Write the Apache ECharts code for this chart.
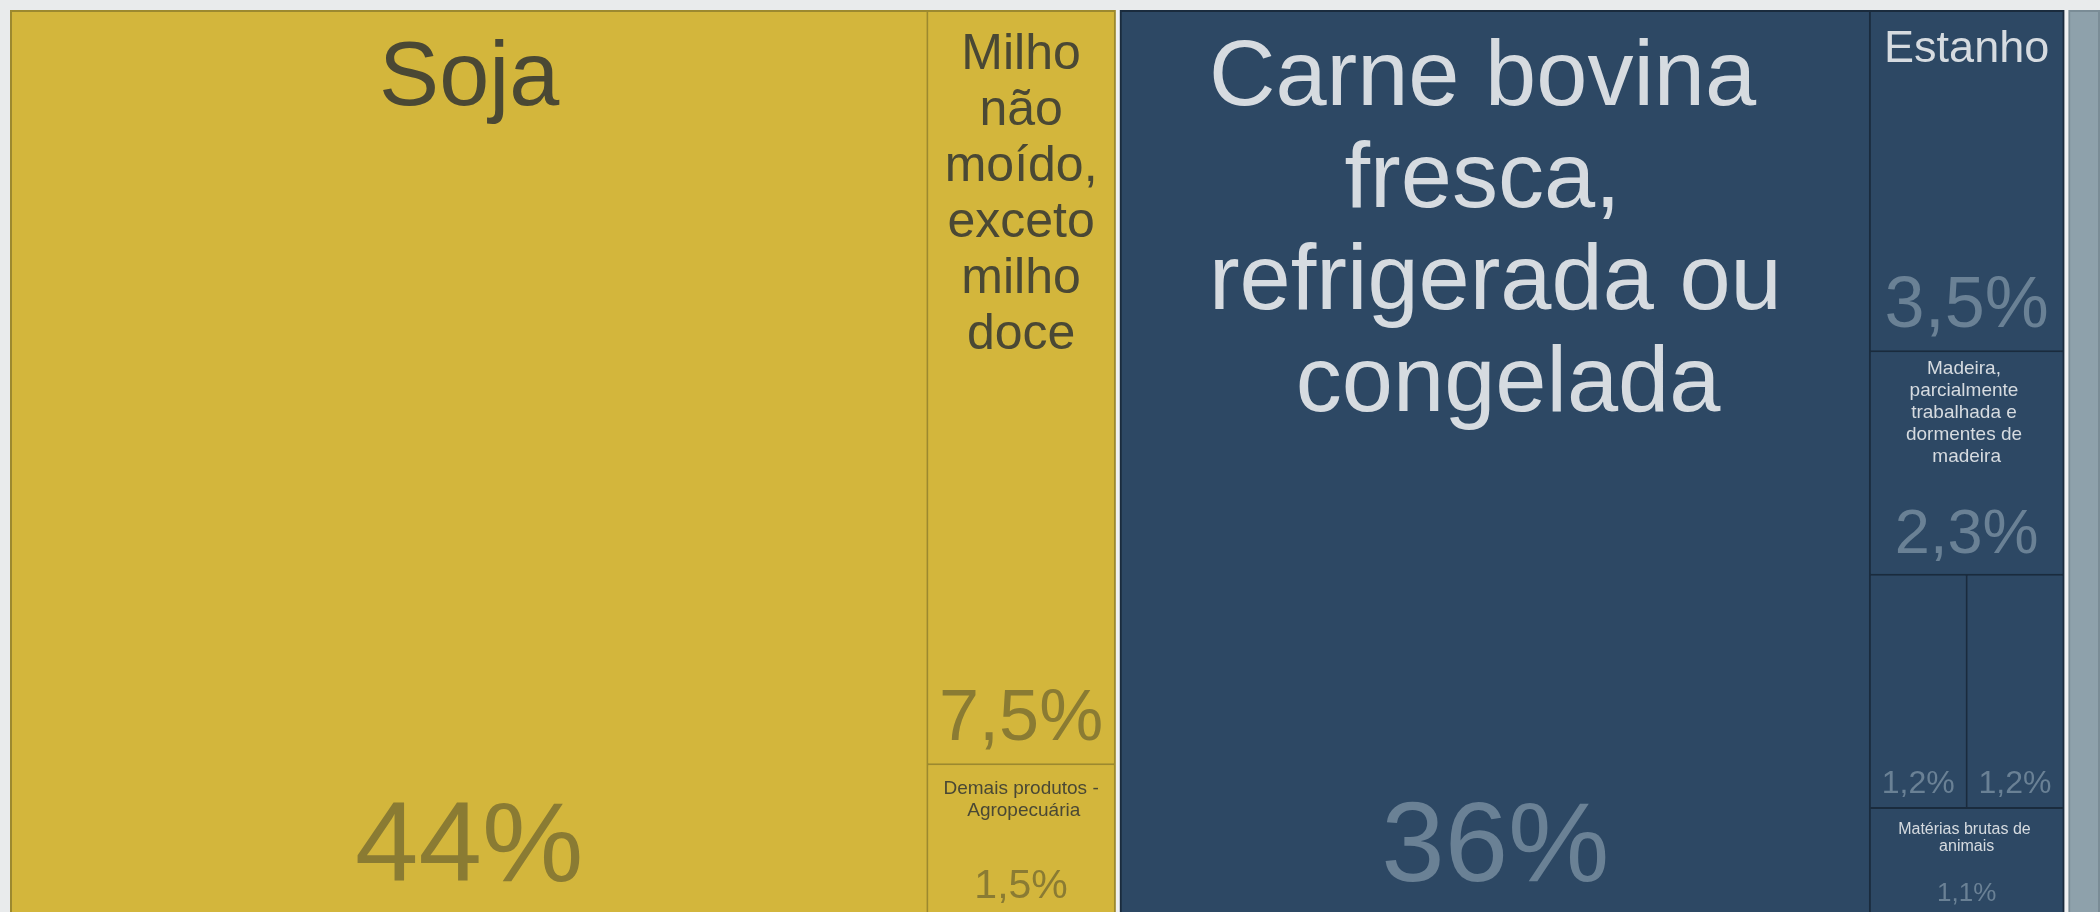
<!DOCTYPE html>
<html>
<head>
<meta charset="utf-8">
<script src="https://cdn.jsdelivr.net/npm/echarts@6/dist/echarts.min.js"></script>
<style>
  html, body { margin: 0; padding: 0; background: #e9ebec; }
  #chart { width: 2100px; height: 912px; }
</style>
</head>
<body>
<div id="chart"></div>
<script>
// ---- data (percent of total) ----
const groupNames = ['Agropecuária', 'Indústria de Transformação', 'Indústria Extrativa'];

const agroNames = ['Soja', 'Milho não moído, exceto milho doce', 'Demais produtos - Agropecuária'];
const agroValues = [44, 7.5, 1.5];

const indNames = [
  'Carne bovina fresca, refrigerada ou congelada',
  'Estanho',
  'Madeira, parcialmente trabalhada e dormentes de madeira',
  'Produto 1,2% (a)',
  'Produto 1,2% (b)',
  'Matérias brutas de animais'
];
const indValues = [36, 3.5, 2.3, 1.2, 1.2, 1.1];

const extNames = ['Demais produtos - Indústria Extrativa'];
const extValues = [1.7];

// ---- styles (kept apart from data) ----
const FONT = '"Liberation Sans", Arial, Helvetica, sans-serif';
const groupStyle = {
  'Agropecuária':               { color: '#d3b63c', border: '#9c892f', nameColor: '#4a4834', pctColor: '#8a7b33' },
  'Indústria de Transformação': { color: '#2d4864', border: '#1a2b3d', nameColor: '#d6dbe0', pctColor: '#6a8195' },
  'Indústria Extrativa':        { color: '#8ea1ab', border: '#7a8c96', nameColor: '#2d3a44', pctColor: '#5d707a' }
};
// name label: [fontSize, lineHeight, paddingTop, paddingSide, oneWordPerLine]
const nameFont = {
  'Soja': [90, 100, 18, 6, false],
  'Milho não moído, exceto milho doce': [50, 56, 15, 0, true],
  'Demais produtos - Agropecuária': [19, 22, 12, 0, false],
  'Carne bovina fresca, refrigerada ou congelada': [92, 102, 17, 6, false],
  'Estanho': [45, 50, 13, 4, false],
  'Madeira, parcialmente trabalhada e dormentes de madeira': [19, 22, 6, 2, false],
  'Matérias brutas de animais': [16, 17, 12, 2, false]
};
const pctFont = {
  'Soja': 114,
  'Milho não moído, exceto milho doce': 72,
  'Demais produtos - Agropecuária': 41,
  'Carne bovina fresca, refrigerada ou congelada': 114,
  'Estanho': 72,
  'Madeira, parcialmente trabalhada e dormentes de madeira': 63,
  'Produto 1,2% (a)': 32,
  'Produto 1,2% (b)': 32,
  'Matérias brutas de animais': 26
};

const groups = [
  [groupNames[0], agroNames, agroValues],
  [groupNames[1], indNames, indValues],
  [groupNames[2], extNames, extValues]
];

function fmtPct(v) {
  return v.toLocaleString('pt-BR', { maximumFractionDigits: 1 }) + '%';
}

function buildData(kind) {
  return groups.map(([g, names, values]) => {
    const gs = groupStyle[g];
    return {
      name: g,
      itemStyle: kind === 'cells'
        ? { color: gs.color, borderColor: gs.border }
        : { color: 'rgba(0,0,0,0)', borderColor: 'rgba(0,0,0,0)' },
      children: names.map((n, i) => {
        const item = { name: n, value: values[i] };
        if (kind === 'cells') {
          item.itemStyle = { color: gs.color, borderColor: gs.color };
          const nf = nameFont[n];
          item.label = nf ? {
            show: true, position: 'insideTop',
            formatter: nf[4] ? (p) => p.name.split(' ').join('\n') : '{b}',
            overflow: nf[4] ? 'none' : 'break',
            fontSize: nf[0], lineHeight: nf[1], color: gs.nameColor,
            padding: [nf[2], nf[3], 5, nf[3]]
          } : { show: false };
        } else {
          item.itemStyle = { color: 'rgba(0,0,0,0)', borderColor: 'rgba(0,0,0,0)' };
          const pf = pctFont[n];
          item.label = pf ? {
            show: true, position: 'insideBottom',
            formatter: (p) => fmtPct(p.value),
            fontSize: pf, lineHeight: pf, color: gs.pctColor
          } : { show: false };
        }
        return item;
      })
    };
  });
}

function makeSeries(kind) {
  const transparent = 'rgba(0,0,0,0)';
  return {
    type: 'treemap',
    left: 10, top: 10, width: 2090, height: 906,
    roam: false,
    nodeClick: false,
    silent: kind !== 'cells',
    breadcrumb: { show: false },
    animation: false,
    visibleMin: 0,
    label: {
      show: true,
      fontFamily: FONT,
      overflow: 'break',
      padding: kind === 'cells' ? [12, 6, 5, 6] : [5, 4, 7, 4]
    },
    upperLabel: { show: false },
    emphasis: { disabled: true },
    levels: [
      { itemStyle: { borderWidth: 0, gapWidth: 4, borderColor: kind === 'cells' ? '#f0f1f2' : transparent, color: transparent } },
      { itemStyle: { borderWidth: 2, gapWidth: 2 } },
      { itemStyle: { borderWidth: 0, gapWidth: 0 } }
    ],
    data: buildData(kind)
  };
}

const chart = echarts.init(document.getElementById('chart'), null, { renderer: 'canvas' });
chart.setOption({
  animation: false,
  backgroundColor: '#e9ebec',
  tooltip: { show: false },
  series: [makeSeries('cells'), makeSeries('pct')]
});
</script>
</body>
</html>
